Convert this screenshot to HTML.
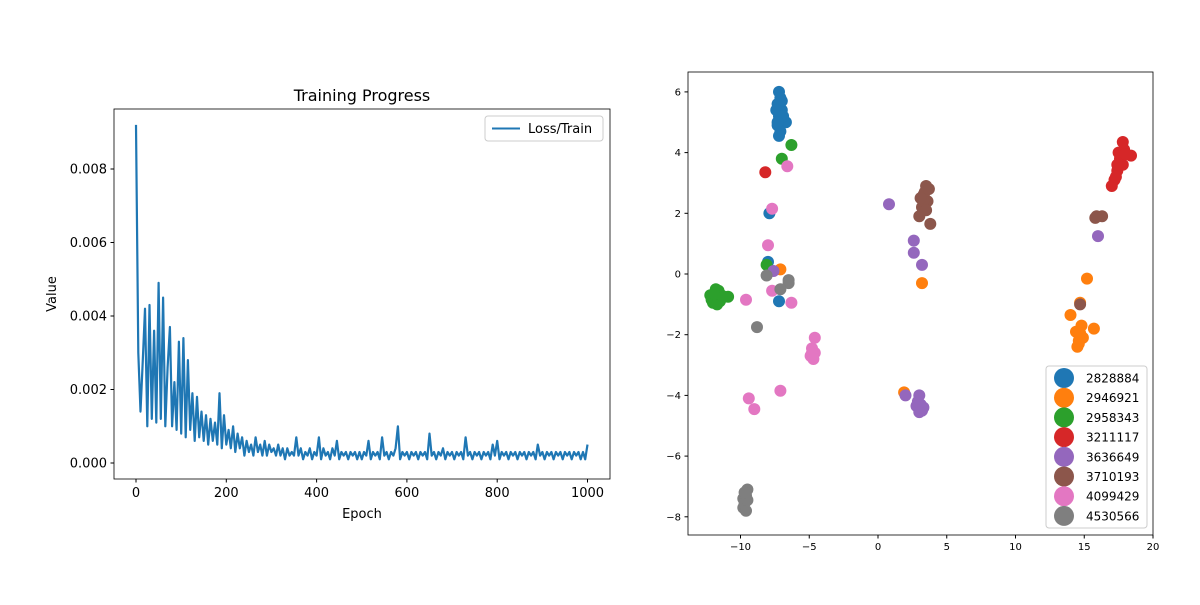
<!DOCTYPE html>
<html><head><meta charset="utf-8"><style>
body{margin:0;background:#fff;font-family:"Liberation Sans","DejaVu Sans",sans-serif}
svg text{font-family:"DejaVu Sans","Liberation Sans",sans-serif}
</style></head><body>
<svg id="fig" width="1200" height="600" xmlns="http://www.w3.org/2000/svg">
<rect width="1200" height="600" fill="#fff"/>
<g id="left"></g>
<g id="right"></g>
</svg>
<script>
const lossStep = 5;
const lossValues = [.0092,.0030,.0014,.0028,.0042,.0010,.0043,.0012,.0036,.0011,.0049,.0012,.0045,.0010,.0026,.0037,.0010,.0022,.0009,.0033,
.0008,.0034,.0007,.0028,.0009,.0019,.0006,.0018,.0007,.0014,.0006,.0013,.0005,.0012,.0006,.0011,.0005,.0019,.0004,.0013,
.0005,.0009,.0004,.0010,.0003,.0008,.0004,.0007,.0002,.0006,.0003,.0005,.0002,.0007,.0003,.0005,.0002,.0006,.0002,.0005,
.0003,.0004,.0002,.0005,.0002,.0004,.0001,.0004,.0002,.0003,.0002,.0007,.0002,.0004,.0001,.0003,.0002,.0004,.0001,.0003,
.0002,.0007,.0001,.0004,.0002,.0003,.0001,.0004,.0002,.0006,.0001,.0003,.0002,.0003,.0001,.0003,.0002,.0003,.0001,.0003,
.0001,.0003,.0002,.0006,.0001,.0003,.0002,.0003,.0001,.0007,.0002,.0003,.0001,.0003,.0002,.0004,.0010,.0001,.0003,.0002,
.0003,.0001,.0003,.0002,.0003,.0001,.0003,.0002,.0003,.0001,.0008,.0002,.0003,.0001,.0003,.0002,.0004,.0001,.0003,.0002,
.0003,.0001,.0003,.0002,.0003,.0001,.0007,.0002,.0003,.0001,.0003,.0002,.0003,.0001,.0003,.0002,.0003,.0001,.0005,.0002,
.0006,.0001,.0003,.0002,.0003,.0001,.0003,.0002,.0003,.0001,.0003,.0002,.0003,.0001,.0003,.0002,.0003,.0001,.0005,.0002,
.0003,.0001,.0003,.0002,.0003,.0001,.0003,.0002,.0003,.0001,.0003,.0002,.0003,.0001,.0003,.0002,.0003,.0001,.0003,.0001,.0005];
const lossXTicks = [0,200,400,600,800,1000];
const lossYTicks = [0,0.002,0.004,0.006,0.008];

const groupLabels = ["2828884","2946921","2958343","3211117","3636649","3710193","4099429","4530566"];
const groupColors = ["#1f77b4","#ff7f0e","#2ca02c","#d62728","#9467bd","#8c564b","#e377c2","#7f7f7f"];
const pts0 = [[-7.2,6.0],[-7.1,5.8],[-7.3,5.6],[-7.0,5.4],[-7.2,5.2],[-6.7,5.0],[-7.3,4.9],[-7.1,4.7],[-7.2,4.55],[-7.0,5.7],[-7.4,5.4],[-6.9,5.2],[-7.3,5.0],[-7.9,2.0],[-8.0,0.4],[-7.2,-0.9]];
const pts1 = [[-7.1,0.15],[3.2,-0.3],[15.2,-0.15],[14.7,-0.95],[14.0,-1.35],[14.4,-1.9],[14.8,-1.7],[14.6,-2.2],[14.5,-2.4],[14.9,-2.1],[14.7,-1.95],[14.6,-2.3],[15.7,-1.8],[1.9,-3.9]];
const pts2 = [[-11.8,-0.75],[-12.2,-0.7],[-11.6,-0.55],[-11.5,-0.9],[-12.0,-0.95],[-11.8,-0.5],[-12.1,-0.85],[-11.7,-1.0],[-11.4,-0.7],[-11.9,-0.65],[-11.2,-0.75],[-10.9,-0.75],[-6.3,4.25],[-7.0,3.8],[-8.1,0.3]];
const pts3 = [[-8.2,3.35],[17.8,4.35],[17.9,4.1],[18.4,3.9],[17.6,3.8],[17.4,3.4],[17.2,3.1],[17.0,2.9],[17.8,3.6],[17.5,4.0],[17.7,3.9],[17.4,3.6],[17.3,3.2],[18.0,3.95]];
const pts4 = [[0.8,2.3],[2.6,1.1],[2.6,0.7],[3.2,0.3],[-7.6,0.1],[16.0,1.25],[2.0,-4.0],[3.0,-4.0],[3.1,-4.3],[2.8,-4.35],[3.2,-4.5],[2.9,-4.2],[3.3,-4.4],[3.0,-4.55]];
const pts5 = [[3.5,2.9],[3.3,2.6],[3.6,2.4],[3.2,2.2],[3.0,1.9],[3.4,2.7],[3.7,2.8],[3.3,2.4],[3.5,2.1],[3.1,2.5],[3.8,1.65],[15.9,1.9],[16.3,1.9],[15.8,1.85],[14.7,-1.0]];
const pts6 = [[-6.6,3.55],[-7.7,2.15],[-8.0,0.95],[-7.7,-0.55],[-6.3,-0.95],[-9.6,-0.85],[-4.6,-2.1],[-4.8,-2.45],[-4.9,-2.7],[-4.6,-2.6],[-4.8,-2.6],[-4.7,-2.8],[-7.1,-3.85],[-9.4,-4.1],[-9.0,-4.45]];
const pts7 = [[-8.1,-0.05],[-6.5,-0.2],[-6.5,-0.3],[-7.1,-0.5],[-8.8,-1.75],[-9.5,-7.1],[-9.6,-7.3],[-9.8,-7.4],[-9.7,-7.55],[-9.8,-7.7],[-9.6,-7.8],[-9.5,-7.45],[-9.7,-7.2]];
const groupPoints = [pts0,pts1,pts2,pts3,pts4,pts5,pts6,pts7];
const scXTicks = [-10,-5,0,5,10,15,20];
const scYTicks = [-8,-6,-4,-2,0,2,4,6];

const NS="http://www.w3.org/2000/svg";
function mk(parent,tag,attrs,text){const e=document.createElementNS(NS,tag);for(const k in attrs)e.setAttribute(k,attrs[k]);if(text!==undefined)e.textContent=text;parent.appendChild(e);return e;}

const L=document.getElementById('left');
const lx=v=>136+(v/1000)*451.5, ly=v=>463-(v/0.008)*294;
let d=lossValues.map((v,i)=>(i?'L':'M')+lx(i*lossStep).toFixed(1)+','+ly(v).toFixed(1)).join(' ');
const ln=mk(L,'path',{d:d,fill:'none',stroke:'#1f77b4','stroke-width':2.2,'stroke-linejoin':'round'});


mk(L,'rect',{x:114,y:109,width:496,height:370,fill:'none',stroke:'#000','stroke-width':0.8});
lossXTicks.forEach(t=>{const x=lx(t);mk(L,'line',{x1:x,x2:x,y1:479,y2:482.5,stroke:'#000'});
 const tx=mk(L,'text',{x:x,y:497,'text-anchor':'middle','font-size':13},String(t));
 
 });
lossYTicks.forEach(t=>{const y=ly(t);mk(L,'line',{x1:110.5,x2:114,y1:y,y2:y,stroke:'#000'});
 const tx=mk(L,'text',{x:107,y:y+4.5,'text-anchor':'end','font-size':13},t.toFixed(3));
 
 });
mk(L,'text',{x:362,y:101,'text-anchor':'middle','font-size':16,},'Training Progress');
mk(L,'text',{x:362,y:518,'text-anchor':'middle','font-size':13,},'Epoch');
mk(L,'text',{x:56,y:294,'text-anchor':'middle','font-size':13,transform:'rotate(-90 56 294)',},'Value');
const lg=mk(L,'g',{});
mk(lg,'rect',{x:485,y:116,width:118,height:25,rx:3,fill:'#fff',stroke:'#ccc'});
mk(lg,'line',{x1:492,x2:520,y1:128.5,y2:128.5,stroke:'#1f77b4','stroke-width':2});
mk(lg,'text',{x:528,y:133,'font-size':13},'Loss/Train');

const R=document.getElementById('right');
const sx=v=>878+v*13.75, sy=v=>274-v*30.35;
groupPoints.forEach((pts,g)=>{pts.forEach(p=>{
 const c=mk(R,'circle',{cx:sx(p[0]).toFixed(1),cy:sy(p[1]).toFixed(1),r:6,fill:groupColors[g]});
 
 });});
mk(R,'rect',{x:688,y:72,width:465,height:463,fill:'none',stroke:'#000','stroke-width':0.8});
scXTicks.forEach(t=>{const x=sx(t);mk(R,'line',{x1:x,x2:x,y1:535,y2:538.5,stroke:'#000'});
 const tx=mk(R,'text',{x:x,y:550,'text-anchor':'middle','font-size':10},String(t).replace('-','\u2212'));
 
 });
scYTicks.forEach(t=>{const y=sy(t);mk(R,'line',{x1:684.5,x2:688,y1:y,y2:y,stroke:'#000'});
 const tx=mk(R,'text',{x:681,y:y+3.5,'text-anchor':'end','font-size':10},String(t).replace('-','\u2212'));
 
 });
const lg2=mk(R,'g',{});
mk(lg2,'rect',{x:1046,y:366,width:101,height:162,rx:3,fill:'#fff',stroke:'#ccc','fill-opacity':0.85});
groupLabels.forEach((lab,i)=>{const y=378+i*19.7;
 const e=mk(lg2,'g',{});
 
 
 mk(e,'circle',{cx:1064,cy:y,r:10,fill:groupColors[i]});
 mk(e,'text',{x:1086,y:y+4.5,'font-size':12},lab);});
</script>
</body></html>
